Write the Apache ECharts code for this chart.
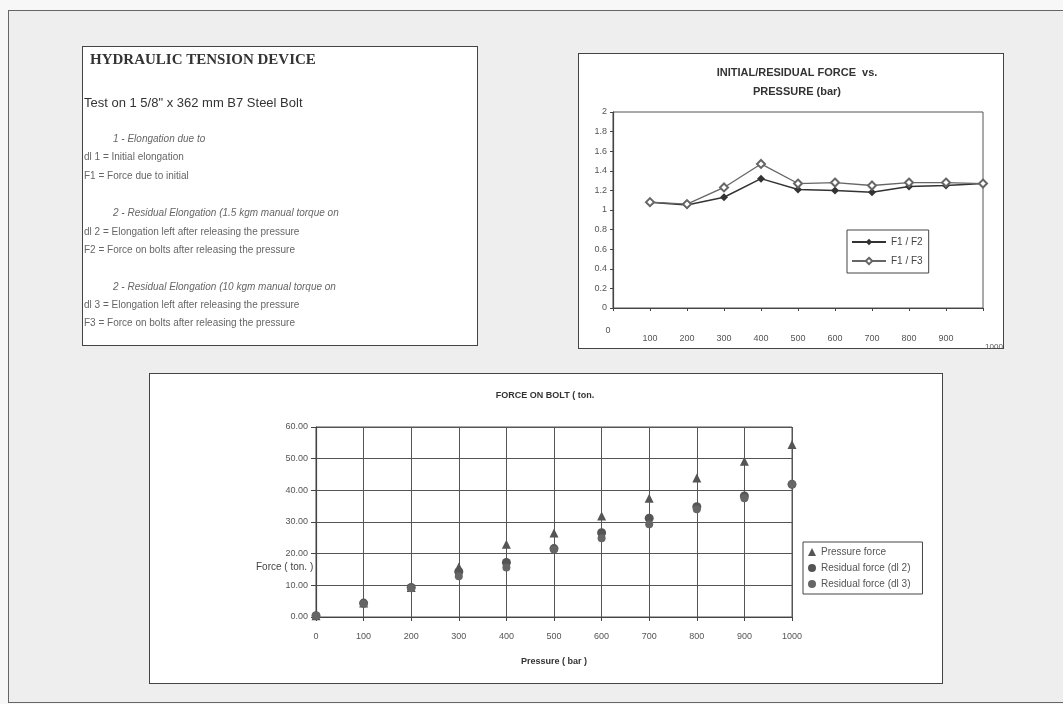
<!DOCTYPE html>
<html>
<head>
<meta charset="utf-8">
<script src="https://cdn.jsdelivr.net/npm/echarts@6/dist/echarts.min.js"></script>
<style>
  html, body { margin: 0; padding: 0; background: #f7f7f7; }
  #wrap { position: relative; width: 1063px; height: 704px; overflow: hidden; }
  .box { position: absolute; box-sizing: border-box; }
  #outer { left: 8px; top: 10px; width: 1070px; height: 693px; border: 1.5px solid #666; background: #eeeeee; }
  #p1 { left: 82px; top: 46px; width: 396px; height: 300px; border: 1.5px solid #444; background: #fff; }
  #p2 { left: 578px; top: 53px; width: 426px; height: 296px; border: 1.5px solid #444; background: #fff; }
  #p3 { left: 149px; top: 373px; width: 794px; height: 311px; border: 1.5px solid #444; background: #fff; }
  #chart { position: absolute; left: 0; top: 0; width: 1063px; height: 704px; }
</style>
</head>
<body>
<div id="wrap">
  <div class="box" id="outer"></div>
  <div class="box" id="p1"></div>
  <div class="box" id="p2"></div>
  <div class="box" id="p3"></div>
  <div id="chart"></div>
</div>
<script>
// ---- Data ----
const ratioPressure = [100, 200, 300, 400, 500, 600, 700, 800, 900, 1000];
const ratioF1F2 = [1.08, 1.05, 1.13, 1.32, 1.21, 1.20, 1.18, 1.24, 1.25, 1.27];
const ratioF1F3 = [1.08, 1.06, 1.23, 1.47, 1.27, 1.28, 1.25, 1.28, 1.28, 1.27];

const pressure = [0, 100, 200, 300, 400, 500, 600, 700, 800, 900, 1000];
const pressureForce = [0.4, 4.4, 9.3, 15.8, 23.0, 26.5, 31.9, 37.5, 43.9, 49.2, 54.5];
const residualDl2 = [0.4, 4.4, 9.3, 14.3, 17.2, 21.6, 26.6, 31.2, 34.8, 38.2, 41.9];
const residualDl3 = [0.4, 4.2, 9.1, 12.9, 15.6, 21.3, 24.9, 29.3, 34.0, 37.5, 41.9];

const seriesNames = ['F1 / F2', 'F1 / F3', 'Pressure force', 'Residual force (dl 2)', 'Residual force (dl 3)'];

const docTitle = 'HYDRAULIC TENSION DEVICE';
const docSubtitle = 'Test on 1 5/8" x 362 mm B7 Steel Bolt';
const docLines = [
  ['1 - Elongation due to', true],
  ['dl 1 = Initial elongation', false],
  ['F1 = Force due to initial', false],
  ['2 - Residual Elongation (1.5 kgm manual torque on', true],
  ['dl 2 = Elongation left after releasing the pressure', false],
  ['F2 = Force on bolts after releasing the pressure', false],
  ['2 - Residual Elongation (10 kgm manual torque on', true],
  ['dl 3 = Elongation left after releasing the pressure', false],
  ['F3 = Force on bolts after releasing the pressure', false]
];
const docLineY = [139, 157, 176, 213, 232, 250, 287, 305, 323];

const chartTitle1a = 'INITIAL/RESIDUAL FORCE  vs.';
const chartTitle1b = 'PRESSURE (bar)';
const chartTitle2 = 'FORCE ON BOLT ( ton.';
const xName2 = 'Pressure ( bar )';
const yName2 = 'Force ( ton. )';

// ---- Chart ----
const chart = echarts.init(document.getElementById('chart'), null, { renderer: 'canvas' });
const FONT = 'Liberation Sans, Arial, sans-serif';

const graphics = [];
graphics.push({ type: 'text', x: 90, y: 60, style: { text: docTitle, fill: '#333', font: 'bold 15px "Liberation Serif", serif', align: 'left', verticalAlign: 'middle' } });
graphics.push({ type: 'text', x: 84, y: 103, style: { text: docSubtitle, fill: '#333', font: '13px ' + FONT, align: 'left', verticalAlign: 'middle' } });
docLines.forEach((l, i) => {
  graphics.push({ type: 'text', x: l[1] ? 113 : 84, y: docLineY[i], style: { text: l[0], fill: '#666', font: (l[1] ? 'italic ' : '') + '10px ' + FONT, align: 'left', verticalAlign: 'middle' } });
});
graphics.push({ type: 'text', x: 797, y: 73, style: { text: chartTitle1a, fill: '#333', font: 'bold 11px ' + FONT, align: 'center', verticalAlign: 'middle' } });
graphics.push({ type: 'text', x: 797, y: 92, style: { text: chartTitle1b, fill: '#333', font: 'bold 11px ' + FONT, align: 'center', verticalAlign: 'middle' } });
graphics.push({ type: 'text', x: 545, y: 396, style: { text: chartTitle2, fill: '#333', font: 'bold 9px ' + FONT, align: 'center', verticalAlign: 'middle' } });
graphics.push({ type: 'text', x: 256, y: 567, style: { text: yName2, fill: '#444', font: '10px ' + FONT, align: 'left', verticalAlign: 'middle' } });

const option = {
  animation: false,
  backgroundColor: 'transparent',
  textStyle: { fontFamily: FONT },
  graphic: graphics,
  grid: [
    { left: 613, top: 112, width: 370, height: 196, show: true, borderColor: '#555', borderWidth: 1, backgroundColor: 'transparent' },
    { left: 316, top: 427, width: 476, height: 190, show: true, borderColor: '#555', borderWidth: 1, backgroundColor: 'transparent' }
  ],
  xAxis: [
    {
      gridIndex: 0, type: 'value', min: 0, max: 1000, interval: 100,
      axisLine: { lineStyle: { color: '#444', width: 1.2 } },
      axisTick: { show: true, length: 3, lineStyle: { color: '#444' } },
      splitLine: { show: false },
      axisLabel: {
        color: '#555', fontSize: 9, margin: 18,
        formatter: v => v === 0 ? '{z|0}' : (v === 1000 ? '{k|1000}' : '{n|' + v + '}'),
        rich: {
          n: { fontSize: 9, color: '#555', padding: [8, 0, 0, 0] },
          z: { fontSize: 9, color: '#555', padding: [0, 10, 0, 0] },
          k: { fontSize: 8, color: '#555', padding: [17, 0, 0, 22] }
        }
      }
    },
    {
      gridIndex: 1, type: 'value', min: 0, max: 1000, interval: 100,
      name: xName2, nameLocation: 'middle', nameGap: 40,
      nameTextStyle: { color: '#333', fontSize: 9, fontWeight: 'bold' },
      axisLine: { lineStyle: { color: '#444', width: 1.2 } },
      axisTick: { show: true, length: 4, lineStyle: { color: '#444' } },
      splitLine: { show: true, lineStyle: { color: '#555', width: 1 } },
      axisLabel: { color: '#555', fontSize: 9, margin: 15, formatter: v => String(v) }
    }
  ],
  yAxis: [
    {
      gridIndex: 0, type: 'value', min: 0, max: 2, interval: 0.2,
      axisLine: { show: true, lineStyle: { color: '#444', width: 1.2 } },
      axisTick: { show: true, length: 3, lineStyle: { color: '#444' } },
      splitLine: { show: false },
      axisLabel: { color: '#555', fontSize: 9, margin: 6, formatter: v => String(+v.toFixed(1)) }
    },
    {
      gridIndex: 1, type: 'value', min: 0, max: 60, interval: 10,
      axisLine: { show: true, lineStyle: { color: '#444', width: 1.2 } },
      axisTick: { show: true, length: 5, lineStyle: { color: '#444' } },
      splitLine: { show: true, lineStyle: { color: '#555', width: 1 } },
      axisLabel: { color: '#555', fontSize: 9, margin: 8, formatter: v => v.toFixed(2) }
    }
  ],
  legend: [
    {
      data: [seriesNames[0], seriesNames[1]],
      orient: 'vertical', left: 847, top: 230,
      padding: [7, 6, 7, 4], itemGap: 9, itemWidth: 34, itemHeight: 8,
      borderColor: '#444', borderWidth: 1, backgroundColor: '#fff',
      textStyle: { color: '#444', fontSize: 10 }
    },
    {
      data: [seriesNames[2], seriesNames[3], seriesNames[4]],
      orient: 'vertical', left: 803, top: 542,
      padding: [5, 12, 5, 5], itemGap: 6, itemWidth: 8, itemHeight: 8,
      borderColor: '#444', borderWidth: 1, backgroundColor: '#fff',
      textStyle: { color: '#555', fontSize: 10 }
    }
  ],
  series: [
    {
      name: seriesNames[0], type: 'line', xAxisIndex: 0, yAxisIndex: 0,
      data: ratioPressure.map((p, i) => [p, ratioF1F2[i]]),
      symbol: 'diamond', symbolSize: 8,
      itemStyle: { color: '#333' }, lineStyle: { color: '#333', width: 1.5 }
    },
    {
      name: seriesNames[1], type: 'line', xAxisIndex: 0, yAxisIndex: 0,
      data: ratioPressure.map((p, i) => [p, ratioF1F3[i]]),
      symbol: 'emptyDiamond', symbolSize: 8,
      itemStyle: { color: '#666', borderWidth: 1.3 }, lineStyle: { color: '#666', width: 1.3 }
    },
    {
      name: seriesNames[2], type: 'scatter', xAxisIndex: 1, yAxisIndex: 1,
      data: pressure.map((p, i) => [p, pressureForce[i]]),
      symbol: 'triangle', symbolSize: 9, itemStyle: { color: '#555', opacity: 1 }
    },
    {
      name: seriesNames[3], type: 'scatter', xAxisIndex: 1, yAxisIndex: 1,
      data: pressure.map((p, i) => [p, residualDl2[i]]),
      symbol: 'circle', symbolSize: 9, itemStyle: { color: '#555', opacity: 1 }
    },
    {
      name: seriesNames[4], type: 'scatter', xAxisIndex: 1, yAxisIndex: 1,
      data: pressure.map((p, i) => [p, residualDl3[i]]),
      symbol: 'circle', symbolSize: 8, itemStyle: { color: '#666', opacity: 1 }
    }
  ]
};
chart.setOption(option);
</script>
</body>
</html>
